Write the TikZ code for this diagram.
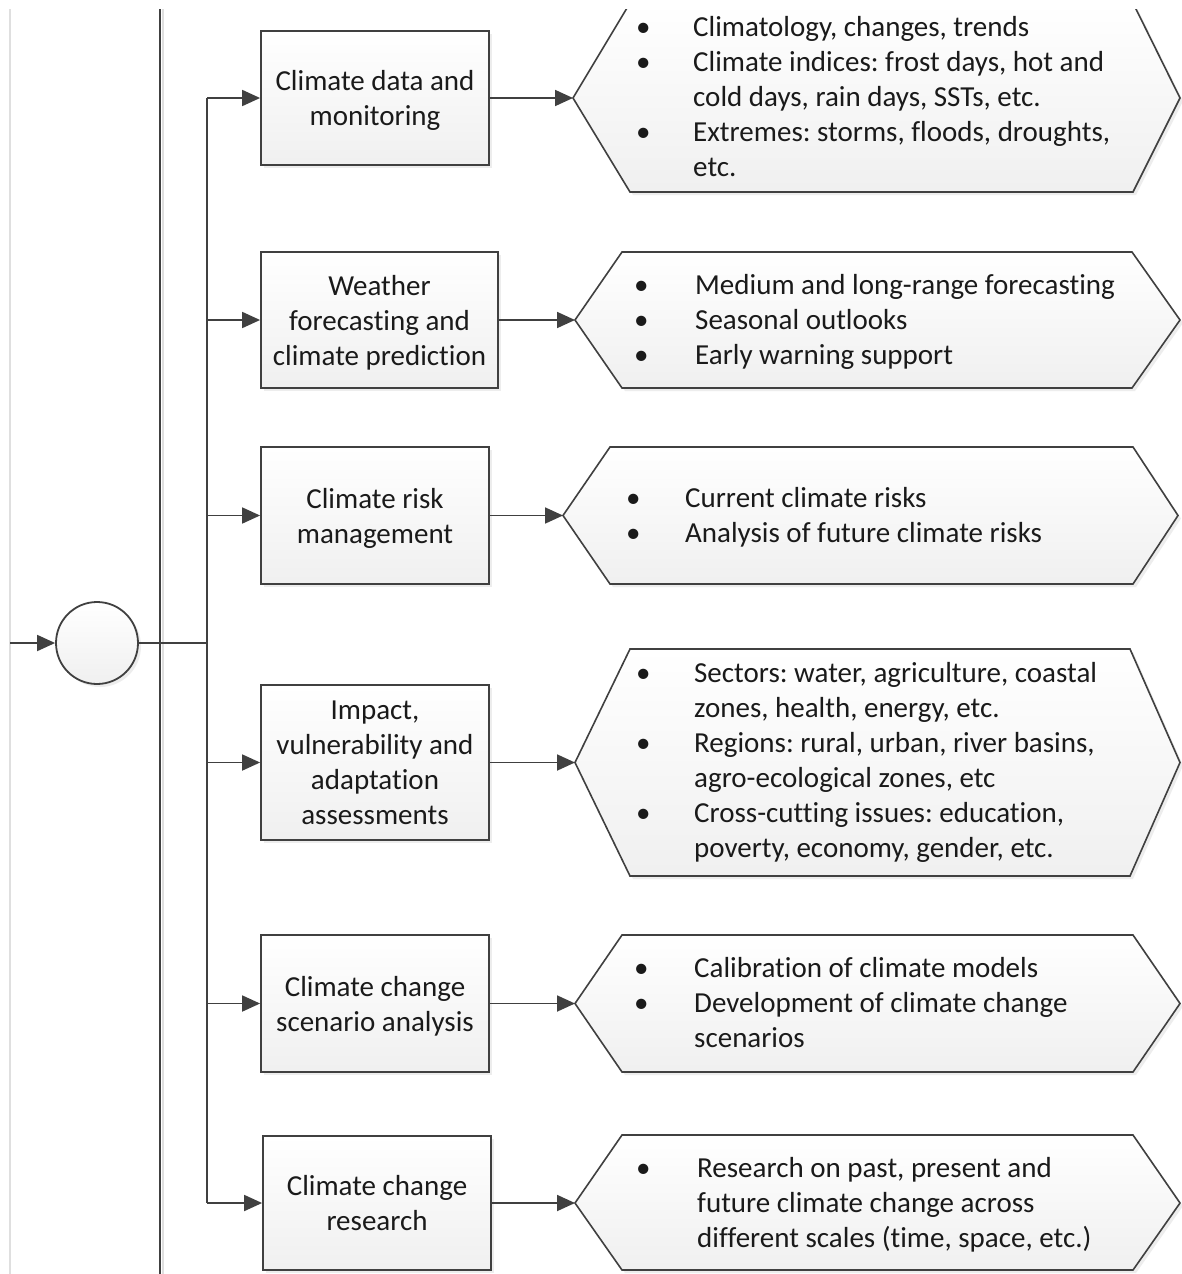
\documentclass[tikz,border=0pt]{standalone}
\usepackage{fontspec}
\setmainfont{Carlito}[Ligatures={NoCommon}]
\usetikzlibrary{arrows.meta,shadows}
\definecolor{linec}{HTML}{404040}
\definecolor{txtc}{HTML}{1A1A1A}
\frenchspacing
\tikzset{
  mfont/.style={font=\fontsize{29}{35}\selectfont, text=txtc},
  sh/.style={drop shadow={shadow xshift=3pt,shadow yshift=-3pt,fill=gray!40,opacity=0.35}},
  boxnode/.style={draw=linec, line width=1.8pt, sh, top color=white, bottom color=gray!12,
     inner sep=0pt, align=center, mfont, text depth=0pt},
  hexa/.style={draw=linec, line width=1.6pt, sh, top color=white, bottom color=gray!12},
  conn/.style={draw=linec, line width=1.8pt},
  arr/.style={conn, -{Triangle[length=18pt,width=16pt]}},
  listnode/.style={inner sep=0pt, anchor=west, mfont, yshift=-2pt},
}
\newcommand\hexdraw[8]{%
  \coordinate (#1) at (#5,#2);
  \path[hexa] (#5,#2) -- (#6,#3) -- (#7,#3) -- (#8,#2) -- (#7,#4) -- (#6,#4) -- cycle;}
\newcommand\bul{\textbullet}
\begin{document}
\begin{tikzpicture}[x=1pt,y=-1pt]
\useasboundingbox[fill=white] (0,0) rectangle (1182,1274);
\clip (0,9) rectangle (1182,1274);

% lane lines
\coordinate (la) at (10,9);
\coordinate (lb) at (10,1274);
\draw[gray!25, line width=1.2pt] (la) -- (lb);
\coordinate (da) at (160,9);
\coordinate (db) at (160,1274);
\draw[gray!25, line width=1.5pt] ([xshift=3pt]da) -- ([xshift=3pt]db);
\draw[conn] (da) -- (db);

% circle
\node[circle, draw=linec, line width=1.8pt, sh, top color=white, bottom color=gray!12,
      minimum size=82pt, inner sep=0pt] (c) at (97,643) {};
\coordinate (in) at (10,643);
\draw[arr] (in) -- (c.west);
\coordinate (cj) at (207,643);
\draw[conn] (c.east) -- (cj);

% boxes
\node[boxnode, minimum width=228pt, minimum height=134pt] (b1) at (375,98) {Climate data and\\monitoring};
\node[boxnode, minimum width=237pt, minimum height=136pt] (b2) at (379.5,320) {Weather\\forecasting and\\climate prediction};
\node[boxnode, minimum width=228pt, minimum height=137pt] (b3) at (375,515.5) {Climate risk\\management};
\node[boxnode, minimum width=228pt, minimum height=155pt] (b4) at (375,762.5) {Impact,\\vulnerability and\\adaptation\\assessments};
\node[boxnode, minimum width=228pt, minimum height=137pt] (b5) at (375,1003.5) {Climate change\\scenario analysis};
\node[boxnode, minimum width=228pt, minimum height=134pt] (b6) at (377,1203) {Climate change\\research};

% branch
\coordinate (j1) at (207,98);
\coordinate (j2) at (207,320);
\coordinate (j3) at (207,515.5);
\coordinate (j4) at (207,762.5);
\coordinate (j5) at (207,1003.5);
\coordinate (j6) at (207,1203);
\draw[conn] (j1) -- (j6);
\foreach \i in {1,...,6} {\draw[arr] (j\i) -- (b\i.west);}

% hexagons
\hexdraw{h1}{98}{3}{192}{573}{630}{1133}{1180}
\hexdraw{h2}{320}{252}{388}{575}{622}{1132}{1180}
\hexdraw{h3}{515.5}{447}{584}{563}{610}{1133}{1178}
\hexdraw{h4}{762.5}{649}{876}{575}{630}{1130}{1180}
\hexdraw{h5}{1003.5}{935}{1072}{575}{622}{1133}{1180}
\hexdraw{h6}{1203}{1135}{1270}{575}{622}{1133}{1180}
\foreach \i in {1,...,6} {\draw[arr] (b\i.east) -- (h\i);}

% lists
\node[listnode] (t1) at (636,97.5) {\begin{tabular}{@{}p{57pt}@{}l@{}}
\bul & Climatology, changes, trends\\
\bul & Climate indices: frost days, hot and\\
     & cold days, rain days, SSTs, etc.\\
\bul & Extremes: storms, floods, droughts,\\
     & etc.\end{tabular}};
\node[listnode] (t2) at (634,320) {\begin{tabular}{@{}p{61pt}@{}l@{}}
\bul & Medium and long-range forecasting\\
\bul & Seasonal outlooks\\
\bul & Early warning support\end{tabular}};
\node[listnode] (t3) at (626,515.5) {\begin{tabular}{@{}p{59pt}@{}l@{}}
\bul & Current climate risks\\
\bul & Analysis of future climate risks\end{tabular}};
\node[listnode] (t4) at (636,761) {\begin{tabular}{@{}p{58pt}@{}l@{}}
\bul & Sectors: water, agriculture, coastal\\
     & zones, health, energy, etc.\\
\bul & Regions: rural, urban, river basins,\\
     & agro-ecological zones, etc\\
\bul & Cross-cutting issues: education,\\
     & poverty, economy, gender, etc.\end{tabular}};
\node[listnode] (t5) at (634,1003) {\begin{tabular}{@{}p{60pt}@{}l@{}}
\bul & Calibration of climate models\\
\bul & Development of climate change\\
     & scenarios\end{tabular}};
\node[listnode] (t6) at (636,1203) {\begin{tabular}{@{}p{61pt}@{}l@{}}
\bul & Research on past, present and\\
     & future climate change across\\
     & different scales (time, space, etc.)\end{tabular}};
\end{tikzpicture}
\end{document}
